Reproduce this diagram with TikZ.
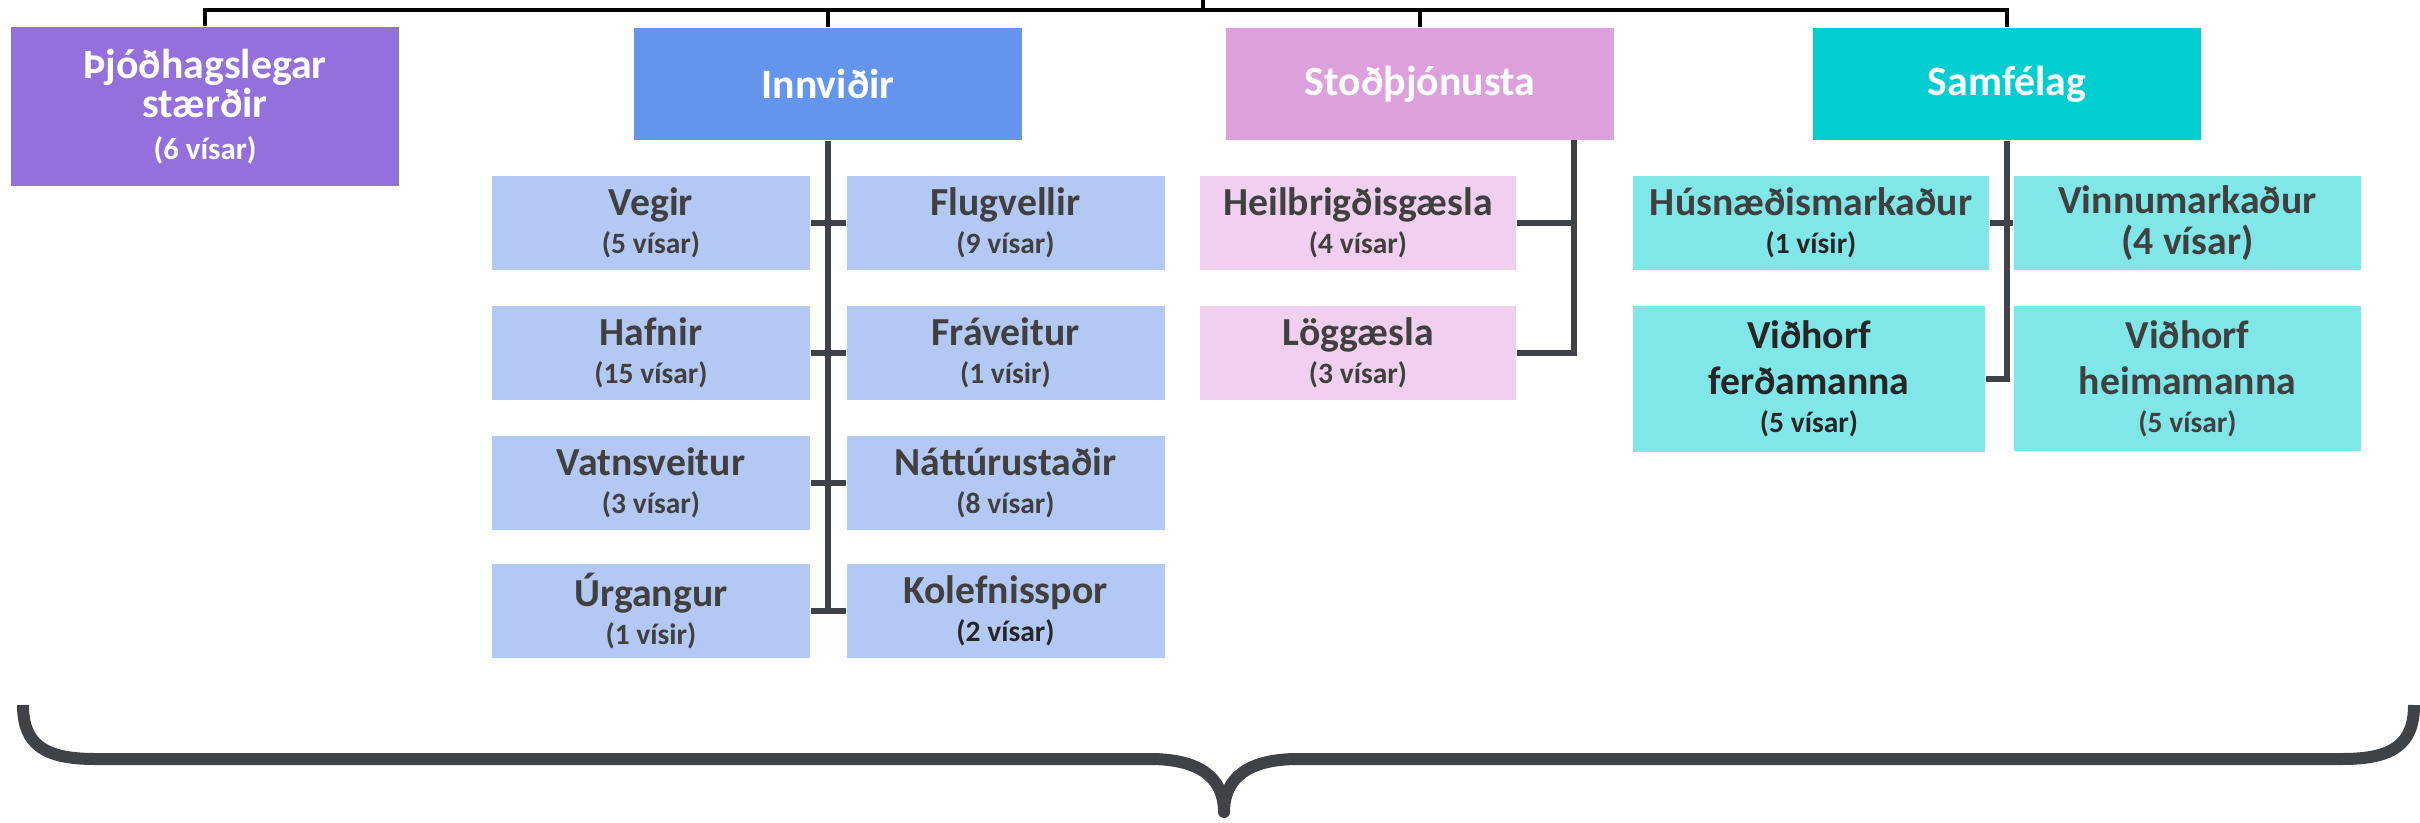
\documentclass[tikz,border=0pt]{standalone}
\usepackage{fontspec}
\setmainfont{Carlito}
\usetikzlibrary{positioning}
\definecolor{grapepurple}{HTML}{9370DB}
\definecolor{cornblue}{HTML}{6495ED}
\definecolor{plumpink}{HTML}{DDA0DD}
\definecolor{tealcyan}{HTML}{00CED1}
\definecolor{cornlight}{HTML}{B3C9F4}
\definecolor{plumlight}{HTML}{F0D0EE}
\definecolor{teallight}{HTML}{80E6E8}
\definecolor{linegray}{HTML}{3F4347}
\definecolor{textgray}{HTML}{404040}
\newcommand{\visar}[1]{{\fontsize{8.4}{10}\selectfont(#1)}}

\begin{document}
\begin{tikzpicture}[x=0.1mm,y=-0.1mm,
  head/.style={text=white, inner sep=0pt, minimum width=38.8mm, minimum height=11.2mm, align=center, font=\fontsize{11.9}{13}\selectfont\bfseries},
  leaf/.style={text=textgray, inner sep=0pt, minimum width=31.8mm, minimum height=9.4mm, align=center, font=\fontsize{11.3}{13}\selectfont\bfseries},
  tie/.style={draw=linegray, line width=0.55mm},
  bus/.style={draw=black, line width=0.4mm}]
\useasboundingbox (0,0) rectangle (2420,822);

% top row
\node[head, fill=grapepurple, minimum height=15.9mm] (thjod) at (205,106.5) {Þjóðhagslegar\\[-1.8pt]stærðir\\[-1.3pt]{\fontsize{8.8}{10}\selectfont(6 vísar)}};
\node[head, fill=cornblue] (innv) at (828,84) {Innviðir};
\node[head, fill=plumpink] (stod) at (1420,84) {Stoðþjónusta};
\node[head, fill=tealcyan] (samf) at (2007,84) {Samfélag};

% Innviðir
\node[leaf, fill=cornlight] (vegir) at (651,223) {Vegir\\[-2.2pt]\visar{5 vísar}};
\node[leaf, fill=cornlight] (flug) at (1005.5,223) {Flugvellir\\[-2.2pt]\visar{9 vísar}};
\node[leaf, fill=cornlight] (hafnir) at (651,353) {Hafnir\\[-2.2pt]\visar{15 vísar}};
\node[leaf, fill=cornlight] (frav) at (1005.5,353) {Fráveitur\\[-2.2pt]\visar{1 vísir}};
\node[leaf, fill=cornlight] (vatn) at (651,483) {Vatnsveitur\\[-2.2pt]\visar{3 vísar}};
\node[leaf, fill=cornlight] (natt) at (1005.5,483) {Náttúrustaðir\\[-2.2pt]\visar{8 vísar}};
\node[leaf, fill=cornlight] (urg) at (651,611) {Úrgangur\\[-2.2pt]\visar{1 vísir}};
\node[leaf, fill=cornlight] (kole) at (1005.5,611) {Kolefnisspor\\[-2.2pt]\textcolor{black!85}{\visar{2 vísar}}};

% Stoðþjónusta
\node[leaf, fill=plumlight, minimum width=31.6mm] (heil) at (1358,223) {Heilbrigðisgæsla\\[-2.2pt]\visar{4 vísar}};
\node[leaf, fill=plumlight, minimum width=31.6mm] (logg) at (1358,353) {Löggæsla\\[-2.2pt]\visar{3 vísar}};

% Samfélag
\node[leaf, fill=teallight, minimum width=35.6mm] (hus) at (1811,223) {Húsnæðismarkaður\\[-2.2pt]\textcolor{black!85}{\visar{1 vísir}}};
\node[leaf, fill=teallight, minimum width=34.7mm] (vinnu) at (2187.5,223) {Vinnumarkaður\\[-1.5pt](4 vísar)};
\node[leaf, fill=teallight, text=black!85, minimum width=35.2mm, minimum height=14.6mm] (ferd) at (1809,379) {Viðhorf\\ferðamanna\\[-2.2pt]\visar{5 vísar}};
\node[leaf, fill=teallight, minimum width=34.7mm, minimum height=14.5mm] (heima) at (2187.5,378.5) {Viðhorf\\heimamanna\\[-2.2pt]\visar{5 vísar}};

% links to the top
\coordinate (busleft) at (205,9.5);
\coordinate (up) at (1203,0);
\draw[bus] (thjod.north) -- (busleft) -| (samf.north);
\draw[bus] (innv.north) -- (innv.north |- busleft);
\draw[bus] (stod.north) -- (stod.north |- busleft);
\draw[bus] (up) -- (up |- busleft);

% links below the heads
\draw[tie] (innv.south) -- (innv.south |- kole.west);
\draw[tie] (vegir.east) -- (flug.west);
\draw[tie] (hafnir.east) -- (frav.west);
\draw[tie] (vatn.east) -- (natt.west);
\draw[tie] (urg.east) -- (kole.west);
\coordinate (stodleg) at (1574,140);
\draw[tie] (stodleg) -- (stodleg |- logg.east) -- (logg.east);
\draw[tie] (heil.east) -- (heil.east -| stodleg);
\draw[tie] (samf.south) -- (samf.south |- ferd.east) -- (ferd.east);
\draw[tie] (hus.east) -- (vinnu.west);

% brace
\draw[linegray, line width=1.2mm, line join=round] (23,705) .. controls (23,745) and (45,759) .. (95,759) -- (1150,759) .. controls (1200,759) and (1224,778) .. (1224,812) .. controls (1224,778) and (1248,759) .. (1298,759) -- (2342,759) .. controls (2392,759) and (2414,745) .. (2414,705);
\end{tikzpicture}
\end{document}
